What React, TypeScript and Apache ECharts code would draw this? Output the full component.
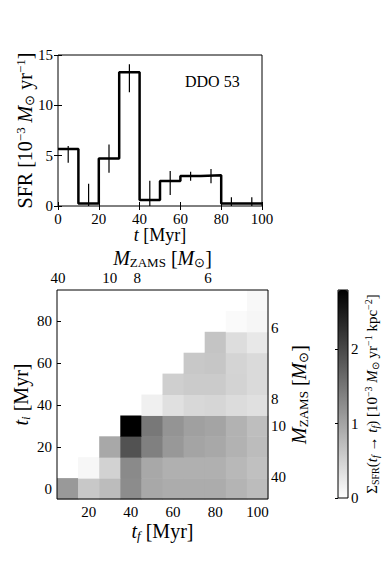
import React, { useEffect, useRef } from "react";
import * as echarts from "echarts";

// ---------- Top panel: SFR history of DDO 53 ----------
const binStarts = [0, 10, 20, 30, 40, 50, 60, 70, 80, 90];
const binEnd = 100;
const sfr = [5.66, 0.26, 4.73, 13.28, 0.6, 2.48, 2.98, 3.05, 0.26, 0.26];
const sfrLow = [4.3, 0, 3.3, 11.3, 0, 1.09, 2.52, 2.25, 0, 0];
const sfrHigh = [5.96, 2.2, 6.1, 14.07, 2.5, 3.48, 3.41, 3.68, 0.86, 0.86];
const galaxyName = "DDO 53";

// ---------- Bottom panel: mean SFR surface density between t_i and t_f ----------
const tFinal = [10, 20, 30, 40, 50, 60, 70, 80, 90, 100];
const tInitial = [0, 10, 20, 30, 40, 50, 60, 70, 80, 90];
// rows: t_i (bottom to top), columns: t_f; null where t_f <= t_i
const sigmaSFR: (number | null)[][] = [
  [1.12, 0.6, 0.74, 1.26, 0.96, 0.91, 0.91, 0.91, 0.82, 0.74],
  [null, 0.09, 0.49, 1.28, 0.96, 0.87, 0.87, 0.87, 0.78, 0.69],
  [null, null, 0.96, 1.9, 1.39, 1.13, 1.0, 0.96, 0.85, 0.74],
  [null, null, null, 2.8, 1.48, 1.18, 1.04, 1.0, 0.85, 0.71],
  [null, null, null, null, 0.16, 0.34, 0.43, 0.45, 0.38, 0.34],
  [null, null, null, null, null, 0.53, 0.57, 0.57, 0.48, 0.41],
  [null, null, null, null, null, null, 0.6, 0.63, 0.47, 0.41],
  [null, null, null, null, null, null, null, 0.65, 0.37, 0.25],
  [null, null, null, null, null, null, null, null, 0.05, 0.1],
  [null, null, null, null, null, null, null, null, null, 0.08],
];
const tfTicks = [20, 40, 60, 80, 100];
const tiTicks = [0, 20, 40, 60, 80];
const massLabels = ["40", "10", "8", "6"];
const massLifetimes = [5.5, 30, 43, 76.6];
const colorMax = 2.8;
const colorTicks = [0, 1, 2];

const FONT = "Liberation Serif";

export default function App() {
  const ref = useRef<HTMLDivElement>(null);
  useEffect(() => {
    if (!ref.current) return;
    const chart = echarts.init(ref.current, null, { renderer: "svg" });

    const rich = (size: number) => ({
      r: { fontFamily: FONT, fontSize: size, lineHeight: size + 2, color: "#000" },
      i: { fontFamily: FONT, fontSize: size, fontStyle: "italic", lineHeight: size + 2, color: "#000" },
      sup: { fontFamily: FONT, fontSize: Math.round(size * 0.65), lineHeight: Math.round(size * 0.7), verticalAlign: "top", color: "#000" },
      sub: { fontFamily: FONT, fontSize: Math.round(size * 0.65), lineHeight: Math.round(size * 0.7), verticalAlign: "bottom", color: "#000" },
      isub: { fontFamily: FONT, fontSize: Math.round(size * 0.65), fontStyle: "italic", lineHeight: Math.round(size * 0.7), verticalAlign: "bottom", color: "#000" },
    });
    const nameStyle = (size: number) => ({ fontFamily: FONT, fontSize: size, color: "#000", rich: rich(size) });

    const tickLabel = { fontFamily: FONT, fontSize: 15, color: "#000" };
    const tickStyle = { show: true, inside: true, length: 4, lineStyle: { color: "#000", width: 1 } };
    const nm = { nameLocation: "middle", nameMoveOverlap: false };

    const binWidth = binStarts[1] - binStarts[0];
    const stepData = binStarts.map((s, k) => [s, sfr[k]]);
    stepData.push([binEnd, sfr[sfr.length - 1]]);
    const errData = binStarts.map((s, k) => [s + binWidth / 2, sfrLow[k], sfrHigh[k]]);

    const cellData: number[][] = [];
    sigmaSFR.forEach((row, i) =>
      row.forEach((v, j) => {
        if (v !== null) cellData.push([tFinal[j], tInitial[i], v]);
      })
    );
    const cellW = tFinal[1] - tFinal[0];
    const cellH = tInitial[1] - tInitial[0];
    const massFmt = (v: number) => {
      const k = massLifetimes.indexOf(v);
      return k >= 0 ? massLabels[k] : "";
    };

    const sfrName = "{r|SFR [10}{sup|−3}{r| }{i|M}{sub|⊙}{r| yr}{sup|−1}{r|]}";
    const mName = "{i|M}{sub|ZAMS}{r| [}{i|M}{sub|⊙}{r|]}";
    const cbName =
      "{r|Σ}{sub|SFR}{r|(}{i|t}{isub|f}{r| → }{i|t}{isub|f}{r|) [10}{sup|−3}{r| }{i|M}{sub|⊙}{r| yr}{sup|−1}{r| kpc}{sup|−2}{r|]}";

    const option: any = {
      animation: false,
      backgroundColor: "#fff",
      textStyle: { fontFamily: FONT },
      grid: [
        { left: 58, top: 55, width: 204, height: 151, show: true, borderColor: "#000", borderWidth: 1, backgroundColor: "transparent", z: 10 },
        { left: 57, top: 290, width: 211, height: 209, show: true, borderColor: "#000", borderWidth: 1, backgroundColor: "transparent", z: 10 },
        { left: 338, top: 290, width: 10, height: 208, show: true, borderColor: "#000", borderWidth: 1, backgroundColor: "transparent", z: 10 },
      ],
      xAxis: [
        {
          gridIndex: 0, type: "value", position: "bottom", min: 0, max: 100, interval: 20,
          axisLine: { show: false }, splitLine: { show: false }, axisTick: tickStyle,
          axisLabel: { ...tickLabel, margin: 5 },
          name: "{i|t}{r| [Myr]}", ...nm, nameGap: 19, nameTextStyle: nameStyle(18),
        },
        {
          gridIndex: 0, type: "value", position: "top", min: 0, max: 100, interval: 20,
          axisLine: { show: false }, splitLine: { show: false }, axisTick: tickStyle, axisLabel: { show: false },
        },
        {
          gridIndex: 1, type: "value", position: "bottom", min: 5, max: 105,
          axisLine: { show: false }, splitLine: { show: false },
          axisTick: { ...tickStyle, customValues: tfTicks },
          axisLabel: { ...tickLabel, margin: 5, customValues: tfTicks },
          name: "{i|t}{isub|f}{r| [Myr]}", ...nm, nameGap: 21, nameTextStyle: nameStyle(20),
        },
        {
          gridIndex: 1, type: "value", position: "top", min: 5, max: 105,
          axisLine: { show: false }, splitLine: { show: false },
          axisTick: { ...tickStyle, customValues: massLifetimes },
          axisLabel: { ...tickLabel, margin: 5, customValues: massLifetimes, formatter: massFmt },
          name: mName, ...nm, nameGap: 21, nameTextStyle: nameStyle(20),
        },
        { gridIndex: 2, type: "value", min: 0, max: 1, show: false },
      ],
      yAxis: [
        {
          gridIndex: 0, type: "value", position: "left", min: 0, max: 15, interval: 5,
          axisLine: { show: false }, splitLine: { show: false }, axisTick: tickStyle,
          axisLabel: { ...tickLabel, margin: 5 },
          name: sfrName, ...nm, nameRotate: 90, nameGap: 22, nameTextStyle: nameStyle(20),
        },
        {
          gridIndex: 0, type: "value", position: "right", min: 0, max: 15, interval: 5,
          axisLine: { show: false }, splitLine: { show: false }, axisTick: tickStyle, axisLabel: { show: false },
        },
        {
          gridIndex: 1, type: "value", position: "left", min: -5, max: 95,
          axisLine: { show: false }, splitLine: { show: false },
          axisTick: { ...tickStyle, customValues: tiTicks },
          axisLabel: { ...tickLabel, margin: 5, customValues: tiTicks },
          name: "{i|t}{isub|i}{r| [Myr]}", ...nm, nameRotate: 90, nameGap: 25, nameTextStyle: nameStyle(20),
        },
        {
          gridIndex: 1, type: "value", position: "right", min: -5, max: 95,
          axisLine: { show: false }, splitLine: { show: false },
          axisTick: { ...tickStyle, customValues: massLifetimes },
          axisLabel: { ...tickLabel, margin: 3, customValues: massLifetimes, formatter: massFmt },
          name: mName, ...nm, nameRotate: 90, nameGap: 20, nameTextStyle: nameStyle(20),
        },
        {
          gridIndex: 2, type: "value", position: "right", min: 0, max: colorMax,
          axisLine: { show: false }, splitLine: { show: false },
          axisTick: { ...tickStyle, length: 3, customValues: colorTicks },
          axisLabel: { ...tickLabel, margin: 3, customValues: colorTicks },
          name: cbName, ...nm, nameRotate: 90, nameGap: 15, nameTextStyle: nameStyle(15),
        },
      ],
      visualMap: {
        type: "continuous",
        seriesIndex: 2,
        dimension: 2,
        min: 0,
        max: colorMax,
        inRange: { color: ["#ffffff", "#000000"] },
        orient: "vertical",
        left: 338,
        top: 290,
        itemWidth: 10,
        itemHeight: 208,
        padding: 0,
        calculable: false,
        hoverLink: false,
        showLabel: false,
        text: null,
        z: 1,
      },
      graphic: [
        {
          type: "text",
          left: 185,
          top: 73,
          style: { text: galaxyName, font: `16px "${FONT}"`, fill: "#000" },
        },
      ],
      series: [
        {
          type: "line",
          xAxisIndex: 0,
          yAxisIndex: 0,
          step: "end",
          data: stepData,
          symbol: "none",
          lineStyle: { color: "#000", width: 2.5 },
          z: 3,
        },
        {
          type: "custom",
          xAxisIndex: 0,
          yAxisIndex: 0,
          data: errData,
          encode: { x: 0, y: [1, 2] },
          renderItem: (params: any, api: any) => {
            const x = api.value(0);
            const p0 = api.coord([x, api.value(1)]);
            const p1 = api.coord([x, api.value(2)]);
            return {
              type: "line",
              shape: { x1: p0[0], y1: p0[1], x2: p1[0], y2: p1[1] },
              style: { stroke: "#000", lineWidth: 1.2 },
            };
          },
          z: 4,
        },
        {
          type: "custom",
          xAxisIndex: 2,
          yAxisIndex: 2,
          data: cellData,
          encode: { x: 0, y: 1 },
          renderItem: (params: any, api: any) => {
            const x = api.value(0);
            const y = api.value(1);
            const p0 = api.coord([x - cellW / 2, y + cellH / 2]);
            const p1 = api.coord([x + cellW / 2, y - cellH / 2]);
            return {
              type: "rect",
              shape: { x: p0[0], y: p0[1], width: p1[0] - p0[0] + 0.5, height: p1[1] - p0[1] + 0.5 },
              style: { fill: api.visual("color") },
            };
          },
          z: 2,
        },
      ],
    };
    chart.setOption(option);
    return () => chart.dispose();
  }, []);
  return (
    <div
      ref={ref}
      style={{ position: "absolute", left: 0, top: 0, width: 388, height: 564 }}
    />
  );
}
